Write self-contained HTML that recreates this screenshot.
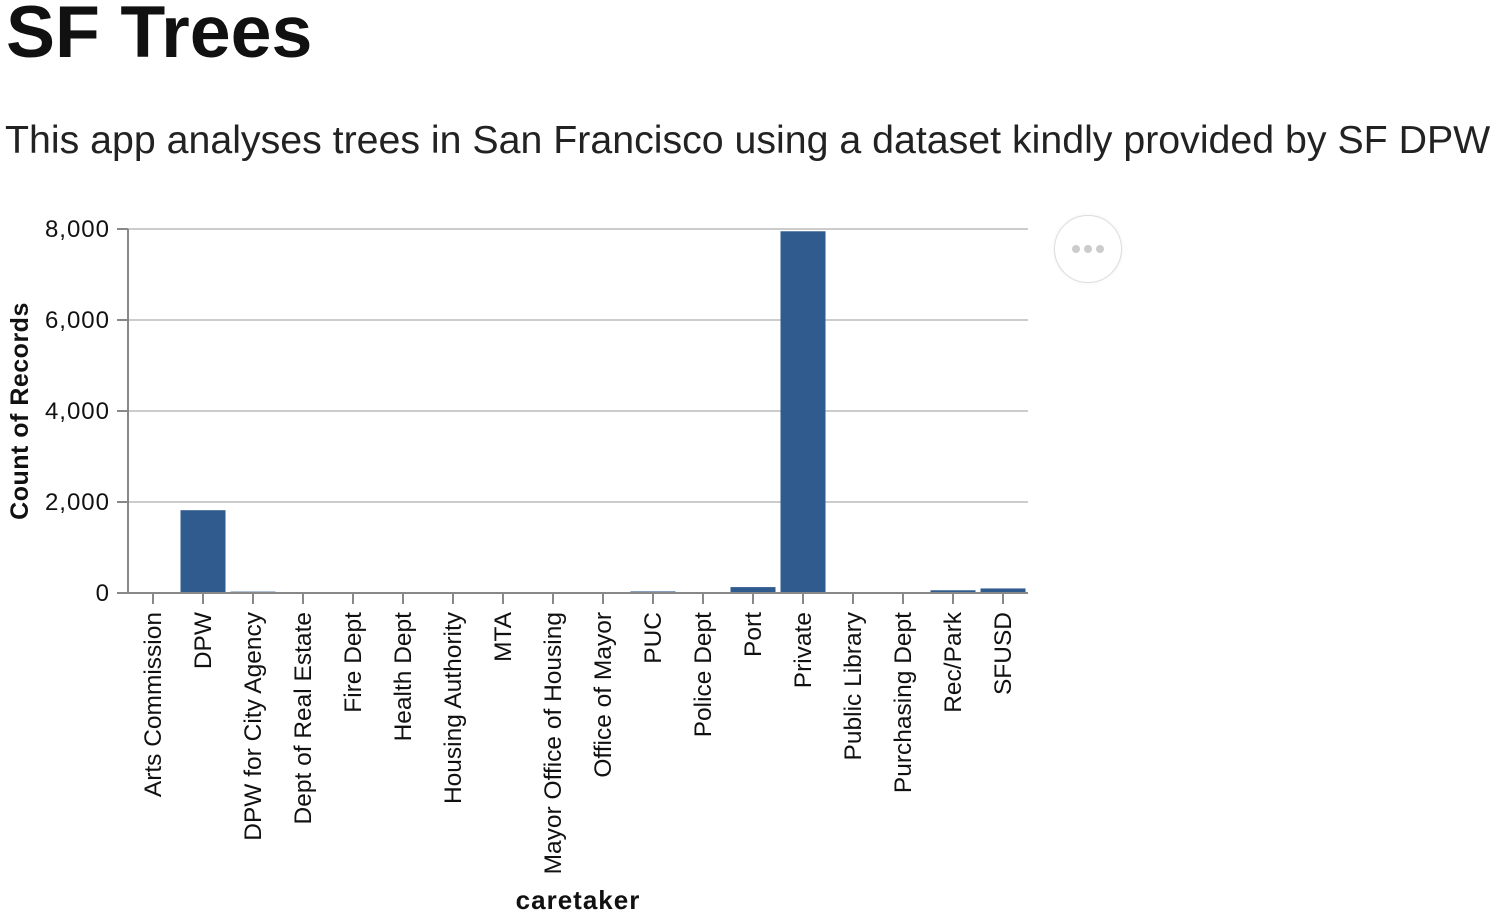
<!DOCTYPE html>
<html><head><meta charset="utf-8"><style>
body{margin:0;width:1499px;height:916px;background:#fff;overflow:hidden;font-family:"Liberation Sans",sans-serif;color:#111}
h1{position:absolute;left:6px;top:-11px;margin:0;font-size:73.5px;font-weight:bold;letter-spacing:0px}
p{position:absolute;left:5px;top:118px;margin:0;font-size:39.3px;color:#222}
#more{position:absolute;left:1054px;top:215px;width:66px;height:66px;border:1px solid #ddd;border-radius:50%;box-shadow:0 0 3px #eee;display:flex;align-items:center;justify-content:center;gap:4px}
#more span{width:8px;height:8px;border-radius:50%;background:#ccc}
</style></head><body>
<h1>SF Trees</h1>
<p>This app analyses trees in San Francisco using a dataset kindly provided by SF DPW</p>
<div id="more"><span></span><span></span><span></span></div>
<svg id="chart" width="1499" height="916" style="position:absolute;left:0;top:0"></svg>
<script>
const categories=["Arts Commission","DPW","DPW for City Agency","Dept of Real Estate","Fire Dept","Health Dept","Housing Authority","MTA","Mayor Office of Housing","Office of Mayor","PUC","Police Dept","Port","Private","Public Library","Purchasing Dept","Rec/Park","SFUSD"];
const counts=[2,1820,30,12,15,5,3,2,3,2,35,3,130,7950,4,12,60,100];
const yTicks=[0,2000,4000,6000,8000];
const yTickLabels=["0","2,000","4,000","6,000","8,000"];
const svg=document.getElementById('chart');const NS='http://www.w3.org/2000/svg';
const X0=128,STEP=50,Y0=593,Y1=229,YMAX=8000;
const x=i=>X0+i*STEP;const y=v=>Y0-(v/YMAX)*(Y0-Y1);
function mk(t,a,p){const e=document.createElementNS(NS,t);for(const k in a)e.setAttribute(k,a[k]);(p||svg).appendChild(e);return e;}
yTicks.forEach((v,i)=>{
 const g=mk('line',{x1:X0,x2:X0+categories.length*STEP,y1:y(v),y2:y(v),stroke:'#ccc','stroke-width':2});
 
 
 mk('line',{x1:117,x2:X0,y1:y(v),y2:y(v),stroke:'#888','stroke-width':2});
 const t=mk('text',{x:110,y:y(v)+8,'text-anchor':'end','font-size':24,'letter-spacing':1,fill:'#111'});t.textContent=yTickLabels[i];
 
 
});
categories.forEach((c,i)=>{
 const b=mk('rect',{x:x(i)+2.5,y:y(counts[i]),width:45,height:Y0-y(counts[i]),fill:'#2f5b8f'});
 
 
 const cx=x(i)+25;
 mk('line',{x1:cx,x2:cx,y1:Y0,y2:Y0+11,stroke:'#888','stroke-width':2});
 const t=mk('text',{x:0,y:0,transform:`translate(${cx+8},${Y0+19}) rotate(-90)`,'text-anchor':'end','font-size':24.5,fill:'#111'});t.textContent=c;
 
 
});
mk('line',{x1:X0,x2:X0,y1:Y1,y2:Y0,stroke:'#888','stroke-width':2});
mk('line',{x1:X0,x2:X0+categories.length*STEP,y1:Y0,y2:Y0,stroke:'#888','stroke-width':2});
const yt=mk('text',{transform:'translate(28,411) rotate(-90)','text-anchor':'middle','font-size':25,'font-weight':'bold','letter-spacing':0.5,fill:'#111'});yt.textContent='Count of Records';


const xt=mk('text',{x:578,y:909,'text-anchor':'middle','font-size':26,'font-weight':'bold','letter-spacing':1,fill:'#111'});xt.textContent='caretaker';


</script>
</body></html>
